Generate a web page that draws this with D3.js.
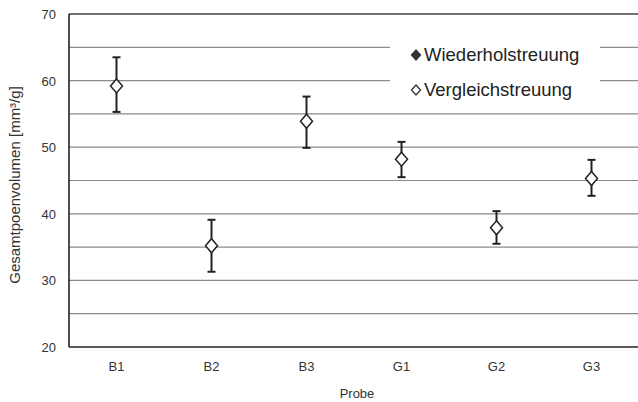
<!DOCTYPE html>
<html><head><meta charset="utf-8">
<script src="https://cdn.jsdelivr.net/npm/d3@7"></script>
<style>body{margin:0;background:#fff}svg{display:block;font-family:"Liberation Sans",Arial,sans-serif}</style>
</head><body><svg id="c" width="638" height="402"></svg>
<script>
const categories = ["B1","B2","B3","G1","G2","G3"];
const means = [59.2, 35.2, 53.9, 48.2, 37.9, 45.3];
const upper = [63.5, 39.1, 57.6, 50.8, 40.4, 48.1];
const lower = [55.3, 31.3, 49.9, 45.5, 35.5, 42.7];
const yTicks = [20,30,40,50,60,70];
const gridValues = [25,30,35,40,45,50,55,60,65];
const legendLabels = ["Wiederholstreuung","Vergleichstreuung"];

const svg = d3.select("#c");
const m = {l:69};
const W = 638;
const x = d3.scaleBand().domain(categories).range([m.l, m.l + 6*95]);
const y = d3.scaleLinear().domain([20,70]).range([347, 14]);
const font = "Liberation Sans, Arial, sans-serif";

// gridlines
svg.append("g").selectAll("line").data(gridValues).join("line")
  .attr("x1", m.l).attr("x2", W).attr("y1", d=>y(d)).attr("y2", d=>y(d))
  .attr("stroke", "#8a8a8a").attr("stroke-width", 1.2);

// legend background masking gridlines
svg.append("rect").attr("x", 390).attr("y", 33).attr("width", 210).attr("height", 68).attr("fill", "#fff");

// frame
svg.append("line").attr("x1", m.l).attr("x2", W).attr("y1", y(70)).attr("y2", y(70)).attr("stroke", "#444").attr("stroke-width", 1.5);
svg.append("line").attr("x1", m.l).attr("x2", W).attr("y1", y(20)).attr("y2", y(20)).attr("stroke", "#222").attr("stroke-width", 1.6);
svg.append("line").attr("x1", m.l).attr("x2", m.l).attr("y1", y(70)).attr("y2", y(20)).attr("stroke", "#222").attr("stroke-width", 1.6);

// y axis labels
const yAxis = d3.axisLeft(y).tickValues(yTicks).tickSize(0).tickPadding(13);
const gy = svg.append("g").attr("transform", `translate(${m.l},0)`).call(yAxis);
gy.select(".domain").remove();
gy.selectAll("text").attr("font-size", 13).attr("fill", "#333").attr("font-family", font).attr("dy", "0.35em");

// x axis labels
const xAxis = d3.axisBottom(x).tickSize(0).tickPadding(15);
const gx = svg.append("g").attr("transform", `translate(0,${y(20)})`).call(xAxis);
gx.select(".domain").remove();
gx.selectAll("text").attr("font-size", 13).attr("fill", "#333").attr("font-family", font);

// axis titles
svg.append("text").attr("x", 357).attr("y", 398).attr("text-anchor", "middle").attr("font-size", 13).attr("fill", "#333").text("Probe");
svg.append("text").attr("transform", "translate(20,185) rotate(-90)").attr("text-anchor", "middle").attr("font-size", 15).attr("fill", "#333").text("Gesamtpoenvolumen [mm³/g]");

// error bars and points
const data = categories.map((c,i)=>({c, m:means[i], u:upper[i], l:lower[i]}));
const g = svg.append("g");
const cx = d => x(d.c) + x.bandwidth()/2;
g.selectAll(".eb").data(data).join("line").attr("class","eb")
  .attr("x1", cx).attr("x2", cx).attr("y1", d=>y(d.u)).attr("y2", d=>y(d.l))
  .attr("stroke", "#222").attr("stroke-width", 2);
g.selectAll(".cu").data(data).join("line").attr("class","cu")
  .attr("x1", d=>cx(d)-4).attr("x2", d=>cx(d)+4).attr("y1", d=>y(d.u)).attr("y2", d=>y(d.u))
  .attr("stroke", "#222").attr("stroke-width", 2);
g.selectAll(".cl").data(data).join("line").attr("class","cl")
  .attr("x1", d=>cx(d)-4).attr("x2", d=>cx(d)+4).attr("y1", d=>y(d.l)).attr("y2", d=>y(d.l))
  .attr("stroke", "#222").attr("stroke-width", 2);
const diamond = (w,h) => `M0,${-h}L${w},0L0,${h}L${-w},0Z`;
g.selectAll(".pt").data(data).join("path").attr("class","pt")
  .attr("transform", d=>`translate(${cx(d)},${y(d.m)})`)
  .attr("d", diamond(6,7)).attr("fill", "#fff").attr("stroke", "#222").attr("stroke-width", 1.5);

// legend
const lg = svg.append("g");
const ly = [55, 90];
lg.selectAll(".ls").data(legendLabels).join("path").attr("class","ls")
  .attr("transform", (d,i)=>`translate(416,${ly[i]})`)
  .attr("d", diamond(4.5,5))
  .attr("fill", (d,i)=> i===0 ? "#333" : "#fff").attr("stroke", "#333").attr("stroke-width", 1.3);
lg.selectAll(".lt").data(legendLabels).join("text").attr("class","lt")
  .attr("x", 424).attr("y", (d,i)=>ly[i]+6).attr("font-size", 18.5).attr("fill", "#222").text(d=>d);
</script></body></html>
